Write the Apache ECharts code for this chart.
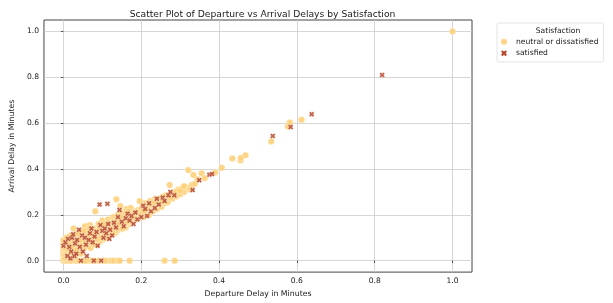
<!DOCTYPE html>
<html>
<head>
<meta charset="utf-8">
<script src="https://cdn.jsdelivr.net/npm/echarts@6/dist/echarts.min.js"></script>
<style>
  html, body { margin: 0; padding: 0; background: #fff; }
  #main { width: 613px; height: 303px; }
</style>
</head>
<body>
<div id="main"></div>
<script>
// tick values shown on both axes
var tickValues = [0, 0.2, 0.4, 0.6, 0.8, 1.0];

// [departure delay, arrival delay]
var neutralPoints = [
  [0, 0], [0.005, 0], [0.01, 0], [0.015, 0], [0.02, 0], [0.03, 0], [0.035, 0], [0.04, 0],
  [0.05, 0], [0.055, 0], [0.06, 0], [0.07, 0], [0.075, 0], [0.08, 0], [0.09, 0], [0.1, 0],
  [0.105, 0], [0.11, 0], [0.12, 0], [0.125, 0], [0.13, 0], [0.14, 0], [0.145, 0], [0.17, 0],
  [0.26, 0], [0.286, 0],
  [0, 0.01], [0, 0.02], [0, 0.03], [0, 0.04], [0, 0.05], [0, 0.06], [0, 0.07], [0, 0.08], [0, 0.09],
  [0.003, 0.012], [0.005, 0.025], [0.008, 0.04], [0.004, 0.055], [0.006, 0.07], [0.01, 0.085],
  [0.012, 0.02], [0.015, 0.045], [0.018, 0.06], [0.02, 0.075], [0.022, 0.095], [0.025, 0.03],
  [0.028, 0.05], [0.03, 0.065], [0.032, 0.11], [0.026, 0.14], [0.035, 0.08], [0.038, 0.04],
  [0.04, 0.1], [0.042, 0.06], [0.045, 0.125], [0.048, 0.085], [0.05, 0.05], [0.052, 0.07],
  [0.055, 0.15], [0.058, 0.11], [0.06, 0.09], [0.062, 0.065], [0.065, 0.13], [0.068, 0.155],
  [0.07, 0.1], [0.072, 0.075], [0.075, 0.12], [0.078, 0.14], [0.08, 0.085], [0.082, 0.215],
  [0.085, 0.105], [0.088, 0.13], [0.09, 0.16], [0.092, 0.09], [0.095, 0.115], [0.098, 0.145],
  [0.1, 0.175], [0.102, 0.1], [0.105, 0.125], [0.108, 0.155], [0.11, 0.11], [0.112, 0.135],
  [0.115, 0.18], [0.118, 0.12], [0.12, 0.15], [0.122, 0.165], [0.125, 0.13], [0.128, 0.19],
  [0.13, 0.145], [0.133, 0.12], [0.136, 0.268], [0.138, 0.16], [0.14, 0.2], [0.142, 0.135],
  [0.145, 0.175], [0.146, 0.238], [0.148, 0.15], [0.15, 0.21], [0.153, 0.165], [0.156, 0.19],
  [0.16, 0.145], [0.162, 0.225], [0.165, 0.18], [0.168, 0.2], [0.17, 0.16], [0.173, 0.23],
  [0.176, 0.19], [0.18, 0.175], [0.182, 0.21], [0.185, 0.2], [0.19, 0.22], [0.193, 0.185],
  [0.196, 0.26], [0.2, 0.205], [0.203, 0.235], [0.206, 0.19], [0.21, 0.25], [0.213, 0.215],
  [0.216, 0.24], [0.22, 0.2], [0.223, 0.26], [0.226, 0.23], [0.23, 0.215], [0.233, 0.25],
  [0.236, 0.27], [0.24, 0.225], [0.244, 0.245], [0.248, 0.26], [0.252, 0.235], [0.256, 0.28],
  [0.26, 0.25], [0.264, 0.27], [0.268, 0.255], [0.273, 0.33], [0.276, 0.29], [0.28, 0.27],
  [0.285, 0.3], [0.29, 0.28], [0.295, 0.31], [0.3, 0.29], [0.305, 0.315], [0.31, 0.3],
  [0.315, 0.32], [0.321, 0.395], [0.325, 0.31], [0.33, 0.33], [0.334, 0.374], [0.338, 0.335],
  [0.345, 0.355], [0.355, 0.381], [0.363, 0.36], [0.39, 0.385], [0.407, 0.405], [0.434, 0.446],
  [0.455, 0.437], [0.456, 0.448], [0.468, 0.46], [0.534, 0.52], [0.577, 0.585], [0.582, 0.603],
  [0.612, 0.615], [1.0, 1.0],
  [0.01, 0.05], [0.015, 0.09], [0.02, 0.035], [0.03, 0.02], [0.035, 0.055], [0.04, 0.075],
  [0.045, 0.03], [0.05, 0.095], [0.055, 0.06], [0.06, 0.12], [0.065, 0.08], [0.07, 0.055],
  [0.075, 0.095], [0.08, 0.11], [0.085, 0.07], [0.09, 0.12], [0.095, 0.085], [0.1, 0.135],
  [0.105, 0.095], [0.11, 0.15], [0.115, 0.1], [0.12, 0.115], [0.125, 0.155], [0.13, 0.17],
  [0.135, 0.13], [0.14, 0.155], [0.145, 0.14], [0.15, 0.16], [0.155, 0.175], [0.16, 0.2],
  [0.165, 0.165], [0.17, 0.19], [0.175, 0.17], [0.18, 0.195], [0.185, 0.18], [0.19, 0.2],
  [0.195, 0.215], [0.2, 0.225], [0.21, 0.22], [0.22, 0.235], [0.23, 0.24], [0.24, 0.26],
  [0.25, 0.25], [0.26, 0.265], [0.27, 0.28], [0.28, 0.29], [0.29, 0.3],
  [0.008, 0.1], [0.014, 0.075], [0.018, 0.11], [0.024, 0.06], [0.027, 0.085], [0.033, 0.045],
  [0.037, 0.12], [0.043, 0.09], [0.047, 0.065], [0.053, 0.13], [0.057, 0.08], [0.063, 0.105],
  [0.067, 0.14], [0.073, 0.115], [0.077, 0.07], [0.083, 0.125], [0.087, 0.095], [0.093, 0.14],
  [0.097, 0.1], [0.103, 0.16], [0.107, 0.115], [0.113, 0.125], [0.117, 0.165], [0.123, 0.14],
  [0.127, 0.12], [0.132, 0.155], [0.137, 0.175], [0.143, 0.16], [0.147, 0.19], [0.152, 0.14],
  [0.157, 0.16], [0.163, 0.17], [0.167, 0.215], [0.172, 0.18], [0.178, 0.2], [0.183, 0.19],
  [0.188, 0.21], [0.198, 0.2], [0.205, 0.215], [0.215, 0.23], [0.225, 0.245], [0.235, 0.255],
  [0.245, 0.27], [0.255, 0.26], [0.265, 0.285], [0.275, 0.275], [0.3, 0.305], [0.31, 0.325]
];

var satisfiedPoints = [
  [0.0, 0.065], [0.005, 0.08], [0.01, 0.02], [0.012, 0.095], [0.015, 0.06], [0.018, 0.01],
  [0.02, 0.04], [0.022, 0.1], [0.025, 0.115], [0.028, 0.02], [0.03, 0.075], [0.033, 0.03],
  [0.035, 0.09], [0.04, 0.135], [0.042, 0.06], [0.045, 0.0], [0.048, 0.11], [0.05, 0.04],
  [0.055, 0.1], [0.058, 0.07], [0.06, 0.02], [0.065, 0.09], [0.068, 0.12], [0.072, 0.14],
  [0.075, 0.08], [0.078, 0.0], [0.08, 0.105], [0.085, 0.125], [0.088, 0.065], [0.093, 0.245],
  [0.095, 0.155], [0.097, 0.0], [0.1, 0.13], [0.103, 0.1], [0.106, 0.14], [0.11, 0.12],
  [0.113, 0.248], [0.115, 0.16], [0.118, 0.095], [0.12, 0.135], [0.125, 0.11], [0.13, 0.165],
  [0.135, 0.145], [0.14, 0.19], [0.144, 0.221], [0.15, 0.17], [0.155, 0.15], [0.16, 0.185],
  [0.165, 0.205], [0.17, 0.175], [0.175, 0.195], [0.18, 0.16], [0.185, 0.21], [0.19, 0.18],
  [0.2, 0.19], [0.205, 0.24], [0.21, 0.225], [0.215, 0.195], [0.22, 0.25], [0.225, 0.215],
  [0.235, 0.23], [0.24, 0.27], [0.245, 0.245], [0.255, 0.275], [0.26, 0.26], [0.27, 0.285],
  [0.275, 0.3], [0.285, 0.285], [0.332, 0.308], [0.349, 0.351], [0.375, 0.375], [0.382, 0.378],
  [0.538, 0.544], [0.584, 0.583], [0.638, 0.639], [0.819, 0.81]
];

var xMark = 'path://M0,1.6 L1.6,0 L3,1.4 L4.4,0 L6,1.6 L4.6,3 L6,4.4 L4.4,6 L3,4.6 L1.6,6 L0,4.4 L1.4,3 Z';
var font = 'DejaVu Sans';

function axisOpts(name, gap) {
  return {
    type: 'value',
    min: -0.05,
    max: 1.05,
    name: name,
    nameLocation: 'middle',
    nameGap: gap,
    nameTextStyle: { fontFamily: font, fontSize: 7.8, color: '#1a1a1a' },
    axisLine: { show: false },
    axisTick: { show: true, customValues: tickValues, length: 2.5, lineStyle: { color: '#333', width: 0.8 } },
    axisLabel: {
      customValues: tickValues, fontFamily: font, fontSize: 7.6, color: '#222', margin: 5,
      formatter: function (v) { return v.toFixed(1); }
    },
    splitLine: { show: true, lineStyle: { color: '#cccccc', width: 0.8 } }
  };
}

var chart = echarts.init(document.getElementById('main'));
chart.setOption({
  animation: false,
  title: [{
    text: 'Scatter Plot of Departure vs Arrival Delays by Satisfaction',
    left: 257.5, top: 5, textAlign: 'center',
    textStyle: { fontFamily: font, fontSize: 9.2, fontWeight: 'normal', color: '#1a1a1a' }
  }, {
    text: 'Satisfaction',
    left: 553, top: 22, textAlign: 'center',
    textStyle: { fontFamily: font, fontSize: 7.6, fontWeight: 'normal', color: '#1a1a1a' }
  }],
  legend: {
    orient: 'vertical',
    left: 497, top: 23,
    padding: [13, 5, 3, 4],
    itemGap: 0,
    itemWidth: 14, itemHeight: 6,
    borderColor: '#dddddd', borderWidth: 0.8, borderRadius: 2,
    textStyle: { fontFamily: font, fontSize: 7.6, color: '#1a1a1a', lineHeight: 11.5 },
    data: [
      { name: 'neutral or dissatisfied', itemStyle: { borderWidth: 0 } },
      { name: 'satisfied', itemStyle: { borderWidth: 0, opacity: 1 } }
    ]
  },
  grid: {
    left: 43, right: 141, top: 20, bottom: 28,
    show: true, borderColor: '#444', borderWidth: 1
  },
  xAxis: axisOpts('Departure Delay in Minutes', 14),
  yAxis: axisOpts('Arrival Delay in Minutes', 18),
  series: [{
    name: 'neutral or dissatisfied',
    type: 'scatter',
    symbol: 'circle',
    symbolSize: 6.5,
    data: neutralPoints,
    itemStyle: { color: '#fdd07a', opacity: 0.9, borderColor: '#fff', borderWidth: 0.4 }
  }, {
    name: 'satisfied',
    type: 'scatter',
    symbol: xMark,
    symbolSize: 5.5,
    data: satisfiedPoints,
    itemStyle: { color: '#b5472b', opacity: 0.85, borderColor: '#fff', borderWidth: 0.4 }
  }]
});
</script>
</body>
</html>
